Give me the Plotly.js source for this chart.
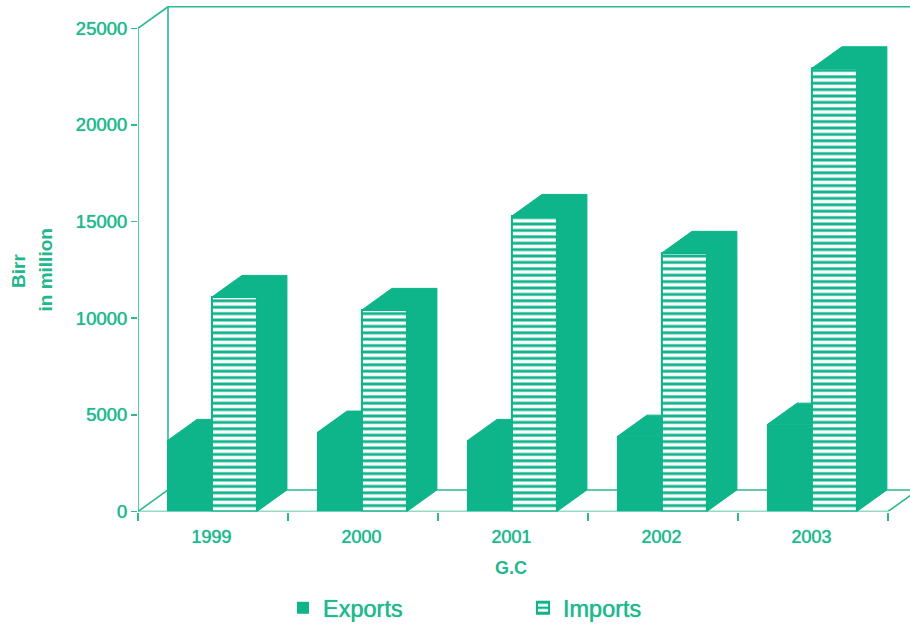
<!DOCTYPE html>
<html><head><meta charset="utf-8">
<script src="https://cdn.plot.ly/plotly-3.0.1.min.js"></script>
<style>html,body{margin:0;padding:0;background:#fff}</style>
</head><body><div id="chart" style="width:910px;height:631px"></div>
<script>
const years = ['1999','2000','2001','2002','2003'];
const exportsValues = [3650, 4080, 3650, 3870, 4490];
const importsValues = [11100, 10430, 15290, 13380, 22930];
const yTicks = [0,5000,10000,15000,20000,25000];

const GREEN = '#0eb48a';
const LINE = '#2cb98f';
const TEXT = '#22b78c';
const FONT = '"Liberation Sans", Arial, sans-serif';
const SHADOW = '0 0 1px #22b78c';
const DX = 0.2, DY = 1115;         // oblique depth of the pseudo-3D box
const START = 0.193, W = 0.3;      // bar start within a group, and bar width
const XMAX = 5.147, YMAX = 26464, YTOP = 25000;
const BOTTOM_MARGIN = 40, PLOT_H = 631 - BOTTOM_MARGIN;
const paperY = px => 1 - px / PLOT_H;

const idx = years.map((_, i) => i);
const expX = idx.map(i => i + START + W/2);
const impX = idx.map(i => i + START + W*1.5);

function topFace(x0, x1, v){ return [[x0,v],[x0+DX,v+DY],[x1+DX,v+DY],[x1,v],[x0,v]]; }
function sideFace(x1, v){ return [[x1,0],[x1+DX,DY],[x1+DX,v+DY],[x1,v],[x1,0]]; }
function polyTrace(polys){
  const x=[], y=[];
  polys.forEach(p => { p.forEach(q => { x.push(q[0]); y.push(q[1]); }); x.push(null); y.push(null); });
  return {type:'scatter', mode:'lines', x, y, fill:'toself', fillcolor:GREEN,
          line:{color:GREEN,width:1}, hoverinfo:'skip', showlegend:false, xaxis:'x', yaxis:'y'};
}
const expTops = idx.map(i => {
  const x0=i+START, x1=i+START+W, v=exportsValues[i];
  return [[x0,v],[x0+DX,v+DY],[x1,v+DY],[x1,v],[x0,v]];
});
const impTops = idx.map(i => topFace(i+START+W, i+START+2*W, importsValues[i]));
const impSides = idx.map(i => sideFace(i+START+2*W, importsValues[i]));

const traces = [
  {type:'bar', name:'Exports', x:expX, y:exportsValues, width:W,
   marker:{color:GREEN, line:{width:0}}, xaxis:'x', yaxis:'y'},
  {type:'bar', name:'Imports', x:impX, y:importsValues, width:W,
   marker:{color:GREEN, line:{color:GREEN,width:2},
     pattern:{shape:'-', size:6.4, solidity:0.55, fgcolor:'#ffffff', bgcolor:GREEN, fgopacity:1}},
   xaxis:'x', yaxis:'y'},
  polyTrace(expTops.concat(impTops).concat(impSides)),
  {type:'scatter', mode:'markers', x:idx.map(i=>i+0.5), y:idx.map(()=>0), marker:{opacity:0},
   hoverinfo:'skip', showlegend:false, xaxis:'x2', yaxis:'y'}
];

function seg(x0,y0,x1,y1){
  return {type:'line', layer:'below', xref:'x', yref:'y', x0,y0,x1,y1, line:{color:LINE,width:1.6}};
}
const shapes = [
  seg(0,0,0,YTOP), seg(0,YTOP,DX,YTOP+DY), seg(DX,YTOP+DY,XMAX,YTOP+DY),
  seg(DX,DY,DX,YTOP+DY), seg(0,0,DX,DY), seg(DX,DY,XMAX,DY),
  seg(0,0,5,0), seg(5,0,5+DX,DY)
];
const XDOM = [138/910, 1], YDOM = [paperY(511.5), 1];

const layout = {
  width:910, height:631, margin:{l:0,r:0,t:0,b:BOTTOM_MARGIN,pad:0},
  paper_bgcolor:'#fff', plot_bgcolor:'#fff', barmode:'overlay',
  font:{family:FONT,color:TEXT,size:18},
  showlegend:true,
  legend:{orientation:'h', x:283/910, xanchor:'left', y:paperY(608), yanchor:'middle',
          font:{size:23.5,color:TEXT,family:FONT,shadow:SHADOW}, entrywidth:195, entrywidthmode:'pixels',
          bgcolor:'rgba(0,0,0,0)', itemclick:false, itemdoubleclick:false},
  xaxis:{domain:XDOM, range:[0,XMAX], tickmode:'array', tickvals:[0,1,2,3,4,5], ticktext:['','','','','',''],
         ticks:'outside', ticklen:8, tickcolor:LINE, tickwidth:1.5, showgrid:false, zeroline:false, showline:false},
  xaxis2:{domain:XDOM, range:[0,XMAX], overlaying:'x', side:'bottom', anchor:'y', tickmode:'array',
          tickvals:idx.map(i=>i+0.49), ticktext:years, ticks:'', showgrid:false, zeroline:false, showline:false,
          ticklabelstandoff:12, tickfont:{size:18,color:TEXT,family:FONT,shadow:SHADOW}},
  yaxis:{domain:YDOM, range:[0,YMAX], tickmode:'array', tickvals:yTicks, tickformat:'d', ticks:'outside', ticklen:6, tickcolor:LINE,
         tickwidth:1.5, showgrid:false, zeroline:false, showline:false, tickfont:{size:18.5,color:TEXT,family:FONT,shadow:SHADOW}},
  shapes,
  annotations:[
    {text:'<b>Birr</b>', xref:'paper', yref:'paper', x:18/910, y:paperY(271), xanchor:'center', yanchor:'middle',
     textangle:-90, showarrow:false, font:{size:19,color:TEXT,family:FONT}},
    {text:'<b>in million</b>', xref:'paper', yref:'paper', x:44.5/910, y:paperY(270), xanchor:'center', yanchor:'middle',
     textangle:-90, showarrow:false, font:{size:19,color:TEXT,family:FONT}},
    {text:'<b>G.C</b>', xref:'paper', yref:'paper', x:511/910, y:paperY(568), xanchor:'center', yanchor:'middle',
     showarrow:false, font:{size:18,color:TEXT,family:FONT}}
  ]
};
Plotly.newPlot('chart', traces, layout, {displayModeBar:false, staticPlot:true});
</script></body></html>
